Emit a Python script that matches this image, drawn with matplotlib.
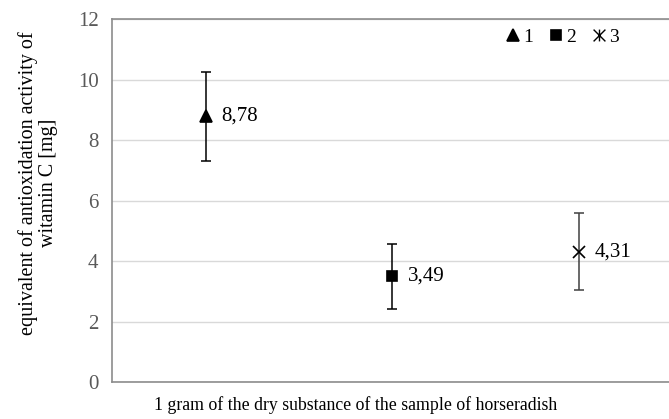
import numpy as np
import matplotlib.pyplot as plt
from matplotlib.path import Path

plt.rcParams['font.family'] = ['Liberation Serif', 'DejaVu Serif']

samples = ['1', '2', '3']
values = [8.78, 3.49, 4.31]
errors = [1.46, 1.07, 1.28]
labels = ['8,78', '3,49', '4,31']

# excel style "star" marker: an x with a vertical bar
star = Path([(-1, -1), (1, 1), (-1, 1), (1, -1), (0, -1), (0, 1)],
            [Path.MOVETO, Path.LINETO, Path.MOVETO, Path.LINETO, Path.MOVETO, Path.LINETO])
markers = ['^', 's', 'x']
sizes = [8.5, 7.5, 8]
bar_colors = ['black', 'black', '#404040']

fig = plt.figure(figsize=(6.69, 4.19), dpi=100)
ax = fig.add_axes([0.168, 0.0883, 0.837, 0.8663])

x = np.arange(1, len(values) + 1)
handles = []
for i in range(len(values)):
    ax.errorbar(x[i], values[i], yerr=errors[i], fmt='none', ecolor=bar_colors[i],
                elinewidth=1.1, capsize=3.3, capthick=1.1, zorder=2)
    h, = ax.plot(x[i], values[i], marker=markers[i], color='black', ms=sizes[i],
                 mew=1.2, ls='none', zorder=3)
    ax.annotate(labels[i], (x[i], values[i]), xytext=(11, 0), textcoords='offset points',
                va='center', ha='left', fontsize=15)
    handles.append(h)

# legend glyph for series 3 is the star
handles[2] = plt.Line2D([], [], marker=star, color='black', ms=8.5, mew=1, ls='none')

ax.set_xlim(0.5, 3.5)
ax.set_ylim(0, 12)
ax.set_yticks(np.arange(0, 13, 2))
ax.set_xticks([])
ax.grid(axis='y', color='#d9d9d9', lw=1)
ax.set_axisbelow(True)
for s in ['left', 'top', 'bottom']:
    ax.spines[s].set_color('#8c8c8c')
    ax.spines[s].set_linewidth(1.2)
ax.spines['right'].set_visible(False)
ax.tick_params(axis='y', length=0, pad=10, labelsize=15, labelcolor='#595959')

fig.text(38 / 669, 1 - 183 / 419, 'equivalent of antioxidation activity of\nwitamin C [mg]',
         rotation=90, ha='center', va='center', multialignment='center', fontsize=14.5,
         linespacing=1.1)
fig.text(356 / 669, 14 / 419, '1 gram of the dry substance of the sample of horseradish',
         ha='center', va='center', fontsize=12.8)

fig.legend(handles, samples, loc='center', bbox_to_anchor=(563 / 669, 1 - 37 / 419),
           ncol=3, frameon=False, fontsize=14, handlelength=0.6, handletextpad=0.2,
           columnspacing=0.9, borderpad=0)

fig.savefig('out.png', dpi=100)
